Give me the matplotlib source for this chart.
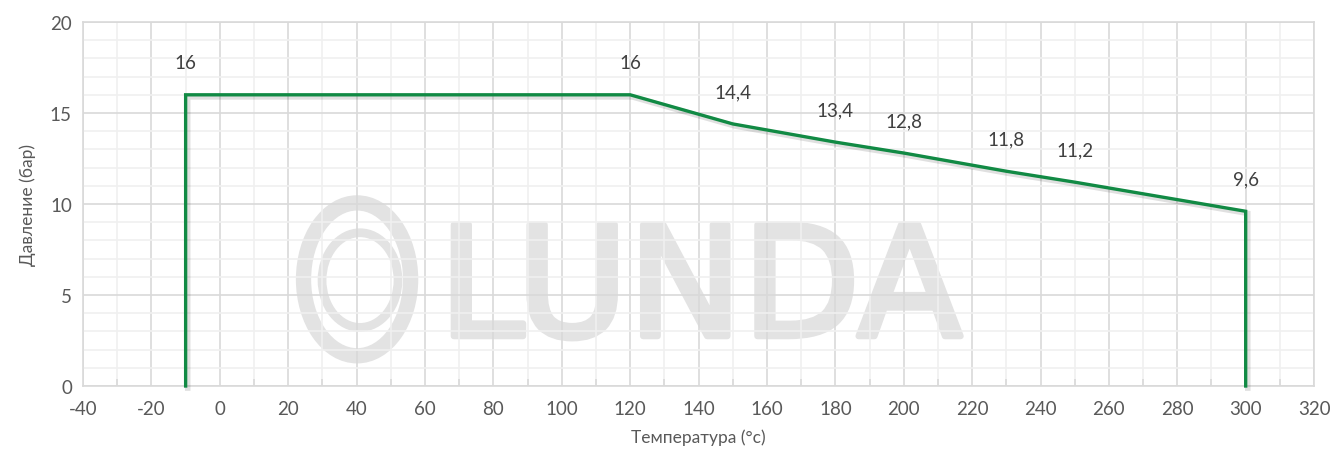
import matplotlib
matplotlib.use("Agg")
import matplotlib.pyplot as plt
import matplotlib.patheffects as pe
from matplotlib.patches import Ellipse
from matplotlib.ticker import MultipleLocator

# ── data ──────────────────────────────────────────────
temp     = [-10, -10, 120, 150, 180, 200, 230, 250, 300, 300]
pressure = [0, 16, 16, 14.4, 13.4, 12.8, 11.8, 11.2, 9.6, 0]
labels   = ["", "16", "16", "14,4", "13,4", "12,8", "11,8", "11,2", "9,6", ""]

GREEN = "#118a44"
TXT   = "#404040"

plt.rcParams['font.family'] = ['Lato', 'DejaVu Sans']
plt.rcParams['axes.unicode_minus'] = False

fig = plt.figure(figsize=(13.33, 4.6), dpi=100)
ax = fig.add_axes([0.0623, 0.1587, 0.9235, 0.7913])

ax.set_xlim(-40, 320)
ax.set_ylim(0, 20)
ax.xaxis.set_major_locator(MultipleLocator(20))
ax.xaxis.set_minor_locator(MultipleLocator(10))
ax.yaxis.set_major_locator(MultipleLocator(5))
ax.yaxis.set_minor_locator(MultipleLocator(1))

ax.set_axisbelow(True)
ax.grid(which="major", color="#d9d9d9", lw=1.2)
ax.grid(which="minor", color="#f0f0f0", lw=1.2)

for s in ax.spines.values():
    s.set_color("#d9d9d9")
    s.set_linewidth(1.2)

ax.tick_params(which="both", colors="#d9d9d9", labelcolor="#595959", labelsize=13.5)
ax.tick_params(axis="y", which="both", length=0, pad=8)
ax.tick_params(axis="x", which="major", length=0, pad=10)
ax.tick_params(axis="x", which="minor", direction="in", length=5, width=1.2)

# ── watermark (axes fraction) ─────────────────────────
wm = "#e3e3e3"
ax.add_patch(Ellipse((0.2226, 0.293), 0.087, 0.42, transform=ax.transAxes,
                     fill=False, ec=wm, lw=11, zorder=0.2))
ax.add_patch(Ellipse((0.2250, 0.291), 0.0617, 0.26, transform=ax.transAxes,
                     fill=False, ec=wm, lw=6.3, zorder=0.2))
ax.text(0.2890, 0.1370, "LUNDA", transform=ax.transAxes, fontsize=110,
        family="DejaVu Sans", color=wm, ha="left", va="baseline", zorder=0.2,
        path_effects=[pe.withStroke(linewidth=4.5, foreground=wm)])

# ── line ──────────────────────────────────────────────
ax.plot(temp, pressure, color=GREEN, lw=2.4, solid_joinstyle="miter",
        clip_on=False, zorder=3,
        path_effects=[pe.SimpleLineShadow(offset=(1.5, -1.5), shadow_color="#000000",
                                          alpha=0.12, linewidth=4),
                      pe.Normal()])

for x, y, t in zip(temp, pressure, labels):
    if t:
        ax.annotate(t, (x, y), xytext=(0, 23), textcoords="offset points",
                    ha="center", va="center", fontsize=13.5, color=TXT, zorder=4)

ax.set_xlabel("Температура (°c)", fontsize=12.5, color="#595959", labelpad=8)
ax.set_ylabel("Давление (бар)", fontsize=12.5, color="#595959", labelpad=10)

fig.savefig("out.png", dpi=100)
